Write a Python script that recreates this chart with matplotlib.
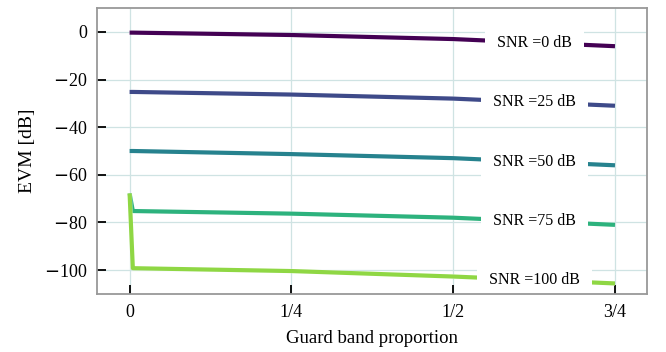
import numpy as np
import matplotlib
matplotlib.use("Agg")
from matplotlib import pyplot as plt
import matplotlib.patheffects as pe

# Data
guard = [0, 0.005, 0.25, 0.5, 0.75]
snr_labels = ["SNR =0 dB", "SNR =25 dB", "SNR =50 dB", "SNR =75 dB", "SNR =100 dB"]
evm_0 = [-0.3, -0.3, -1.3, -3.0, -6.0]
evm_25 = [-25.2, -25.2, -26.3, -28.0, -31.0]
evm_50 = [-50.0, -50.0, -51.3, -53.0, -56.0]
evm_75 = [-67.8, -75.2, -76.3, -78.0, -81.0]
evm_100 = [-67.8, -99.2, -100.4, -102.7, -105.6]
colors = ["#440154", "#3e4a89", "#26828e", "#2db27d", "#8fd744"]
label_x = 0.626

plt.rcParams["font.family"] = ["Liberation Serif", "DejaVu Serif"]
plt.rcParams["mathtext.fontset"] = "custom"
plt.rcParams["mathtext.rm"] = "Liberation Serif"
plt.rcParams["mathtext.sf"] = "DejaVu Sans"

fig, ax = plt.subplots(figsize=(6.66, 3.52), dpi=100)
fig.subplots_adjust(left=0.146, right=0.972, top=0.977, bottom=0.165)

series = [evm_0, evm_25, evm_50, evm_75, evm_100]
for vals, lab, c in zip(series, snr_labels, colors):
    ax.plot(guard, vals, color=c, lw=3.0, solid_capstyle="butt",
            path_effects=[pe.Stroke(linewidth=3.6, foreground="white", alpha=0.5), pe.Normal()])
    # inline label with a white box hiding the line under it
    y_lab = np.interp(label_x, guard, vals)
    ax.text(label_x, y_lab, lab, ha="center", va="center", fontsize=11.5, zorder=2.4,
            bbox=dict(boxstyle="square,pad=0.75", fc="white", ec="none"))

ax.set_xlim(-0.05, 0.8)
ax.set_ylim(-110, 10)
ax.set_xticks([0, 0.25, 0.5, 0.75])
ax.set_xticklabels(["0", "1/4", "1/2", "3/4"])
yt = [0, -20, -40, -60, -80, -100]
ax.set_yticks(yt)
# wide minus, as in the reference
ax.set_yticklabels([("$\\mathsf{-}$%d" % -v) if v < 0 else "%d" % v for v in yt])
ax.tick_params(direction="in", length=6.5, width=1.3, color="black", labelsize=13, pad=7)
ax.grid(True, color="#cfe3e3", lw=0.9)
ax.set_axisbelow(True)
for s in ax.spines.values():
    s.set_color("#999999")
    s.set_linewidth(1.3)

ax.set_xlabel("Guard band proportion", fontsize=13.5, labelpad=7)
ax.set_ylabel("EVM [dB]", fontsize=14, labelpad=6)

fig.savefig("out.png", dpi=100)
